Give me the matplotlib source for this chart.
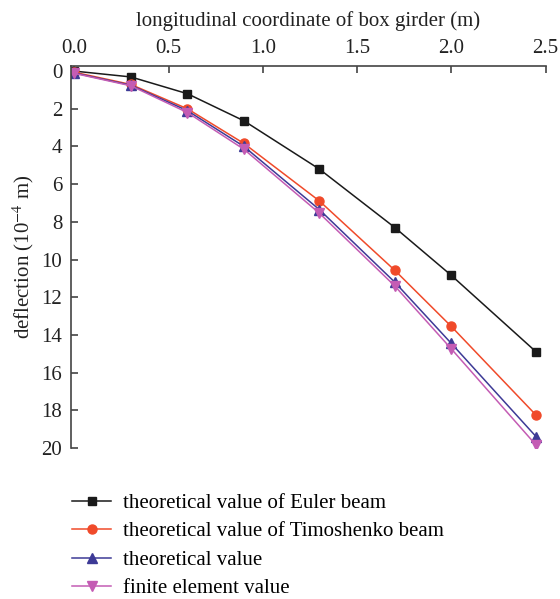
import matplotlib
matplotlib.use("Agg")
import matplotlib.pyplot as plt

# positions along the girder (m)
x_pos = [0.0, 0.3, 0.6, 0.9, 1.3, 1.7, 2.0, 2.45]

# deflection (1e-4 m)
euler = [0.0, 0.31, 1.2, 2.64, 5.2, 8.3, 10.84, 14.9]
timoshenko = [0.06, 0.71, 2.0, 3.84, 6.89, 10.57, 13.55, 18.26]
theory = [0.1, 0.75, 2.1, 4.0, 7.35, 11.2, 14.45, 19.4]
fem = [0.12, 0.78, 2.2, 4.15, 7.54, 11.4, 14.74, 19.85]

labels = [
    "theoretical value of Euler beam",
    "theoretical value of Timoshenko beam",
    "theoretical value",
    "finite element value",
]

plt.rcParams["font.family"] = ["Liberation Serif", "DejaVu Serif"]
plt.rcParams["mathtext.fontset"] = "stix"
FS = 15

fig = plt.figure(figsize=(5.6, 5.99), dpi=100)
ax = fig.add_axes([0.126, 0.2521, 0.8482, 0.6377])

ax.plot(x_pos, euler, color="#1a1a1a", marker="s", markersize=6, lw=1.1, label=labels[0])
ax.plot(x_pos, timoshenko, color="#f04a2a", marker="o", markersize=6.5, lw=1.1, label=labels[1])
ax.plot(x_pos, theory, color="#3d3a96", marker="^", markersize=7, lw=1.1, label=labels[2])
ax.plot(x_pos, fem, color="#c45cb4", marker="v", markersize=7, lw=1.1, label=labels[3])

ax.set_xlim(-0.02, 2.5)
ax.set_ylim(20, -0.27)
ax.set_xticks([0.0, 0.5, 1.0, 1.5, 2.0, 2.5])
ax.set_xticklabels(["0.0", "0.5", "1.0", "1.5", "2.0", "2.5"])
ax.set_yticks(range(0, 21, 2))

ax.xaxis.tick_top()
ax.xaxis.set_label_position("top")
ax.spines["right"].set_visible(False)
ax.spines["bottom"].set_visible(False)
for s in ("top", "left"):
    ax.spines[s].set_color("#444444")
    ax.spines[s].set_linewidth(1.2)
ax.tick_params(axis="both", direction="in", length=5, width=1.2, color="#444444",
               labelsize=FS, labelcolor="#222222", pad=6)

ax.set_xlabel("longitudinal coordinate of box girder (m)", fontsize=FS, color="#222222", labelpad=9)
ax.set_ylabel(r"deflection (10$^{-4}$ m)", fontsize=FS, color="#222222", labelpad=4)

fig.legend(loc="upper left", bbox_to_anchor=(0.129, 0.1766), bbox_transform=fig.transFigure,
           frameon=False, fontsize=FS, handlelength=1.85, handletextpad=0.6,
           labelspacing=0.43, borderaxespad=0, borderpad=0)

fig.savefig("out.png", dpi=100)
